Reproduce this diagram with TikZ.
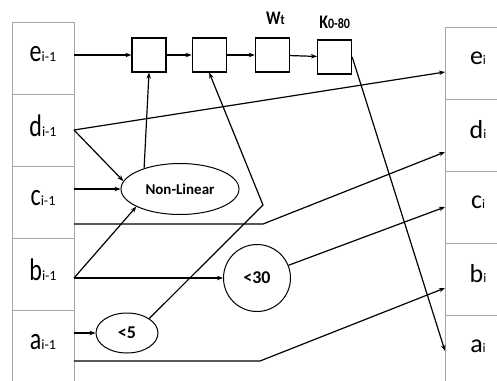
\documentclass[tikz,border=0pt]{standalone}
\usepackage{graphicx}
\usepackage{fontspec}
\setmainfont{Carlito}
\usetikzlibrary{positioning, arrows.meta, shapes.geometric}

\newcommand{\oldlbl}[1]{\scalebox{1}[1.3]{\fontsize{24}{24}\selectfont #1}{\fontsize{14}{14}\selectfont i-1}}
\newcommand{\newlbl}[1]{{\fontsize{26}{26}\selectfont #1}{\fontsize{13}{13}\selectfont i}}
\newcommand{\tagtxt}[2]{\scalebox{1}[1.2]{\bfseries\fontsize{16}{16}\selectfont #1\fontsize{12}{12}\selectfont #2}}

\begin{document}
\begin{tikzpicture}[
    x=1pt, y=-1pt,
    ->, >={Stealth[length=6pt, width=4.5pt]}, line width=1.2pt,
    cell/.style={draw=gray!70, line width=0.6pt, minimum width=62pt,
        minimum height=72pt, inner sep=0pt, outer sep=0pt},
    outcell/.style={cell, minimum width=60pt},
    oldtxt/.style={anchor=base, yshift=4pt},
    newtxt/.style={anchor=base, yshift=5pt, xshift=3pt},
    gate/.style={draw, line width=1.2pt, minimum size=34pt, inner sep=0pt},
    tag/.style={anchor=base, yshift=13pt},
    oval/.style={draw, ellipse, line width=1pt, inner sep=0pt,
        font=\bfseries\fontsize{18}{18}\selectfont}
]
    \useasboundingbox (0,0) rectangle (497,380);

    % state i-1
    \node[cell, label={[oldtxt]center:\oldlbl{e}}] (e0) at (43,58) {};
    \node[cell, below=0pt of e0, label={[oldtxt]center:\oldlbl{d}}] (d0) {};
    \node[cell, below=0pt of d0, label={[oldtxt]center:\oldlbl{c}}] (c0) {};
    \node[cell, below=0pt of c0, label={[oldtxt]center:\oldlbl{b}}] (b0) {};
    \node[cell, below=0pt of b0, label={[oldtxt]center:\oldlbl{a}}] (a0) {};

    % state i
    \node[outcell, label={[newtxt]center:\newlbl{e}}] (e1) at (475,63) {};
    \node[outcell, below=0pt of e1, label={[newtxt]center:\newlbl{d}}] (d1) {};
    \node[outcell, below=0pt of d1, label={[newtxt]center:\newlbl{c}}] (c1) {};
    \node[outcell, below=0pt of c1, label={[newtxt]center:\newlbl{b}}] (b1) {};
    \node[outcell, below=0pt of b1, label={[newtxt]center:\newlbl{a}}] (a1) {};

    % chain of boxes
    \node[gate] (g1) at (149,55) {};
    \node[gate, right=25pt of g1] (g2) {};
    \node[gate, right=28pt of g2, label={[tag, xshift=3pt]north:\tagtxt{W}{t}}] (g3) {};
    \node[gate, right=27pt of g3, yshift=-2pt,
        label={[tag, yshift=-2pt]north:\tagtxt{K}{0-80}}] (g4) {};

    % functions
    \node[oval, minimum width=118pt, minimum height=51pt,
        font=\bfseries\fontsize{15}{15}\selectfont] (nonlin) at (180,189) {Non-Linear};
    \node[oval, minimum width=62pt, minimum height=40pt] (lt5) at (127,333) {<5};
    \node[oval, circle, minimum size=67pt] (lt30) at (257,278) {<30};

    \coordinate (kc) at (263,224);
    \coordinate (k5) at (263,205);
    \coordinate (ka) at (260,361);

    \draw (e0.east |- g1.west) -- (g1.west);
    \draw (g1) -- (g2);
    \draw (g2) -- (g3);
    \draw (g3) -- (g4);
    \draw (g4.east) -- (a1.west);

    \draw (d0.east) -- ([yshift=-9pt]e1.west);
    \draw (d0.east) -- (nonlin.172);
    \draw (c0.east |- nonlin.west) -- (nonlin.west);
    \draw ([yshift=-22pt]c0.east) -- (kc) -- ([yshift=-17pt]d1.west);
    \draw (b0.east |- lt30.west) -- (nonlin.202);
    \draw (b0.east |- lt30.west) -- (lt30.west);
    \draw (nonlin.150) -- (g1.south);

    \draw (a0.east |- lt5.west) -- (lt5.west);
    \draw (lt5.33) -- (k5) -- (g2.south);
    \draw (lt30.22) -- (c1.west);
    \draw ([yshift=-15pt]a0.east) -- (ka) -- ([yshift=-9pt]b1.west);
\end{tikzpicture}
\end{document}
